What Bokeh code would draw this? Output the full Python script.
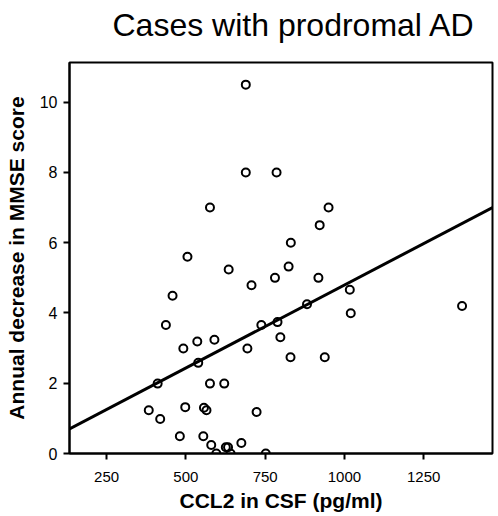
import numpy as np
from bokeh.plotting import figure
from bokeh.models import ColumnDataSource, FixedTicker, Range1d, Title
from bokeh.embed import file_html
from bokeh.resources import INLINE

# CCL2 in CSF (pg/ml)
ccl2 = [689, 689, 786, 576, 950, 922, 831, 505, 635, 824,
        781, 918, 707, 458, 882, 437, 738, 789, 536, 590,
        798, 492, 694, 830, 938, 539, 411, 576, 621, 383,
        419, 498, 557, 565, 723, 481, 555, 675, 580, 626,
        633, 596, 641, 752, 1017, 1020, 1371]
# Annual decrease in MMSE score
mmse = [10.5, 8.0, 8.0, 7.0, 7.0, 6.5, 6.0, 5.6, 5.24, 5.32,
        5.0, 5.0, 4.79, 4.49, 4.25, 3.66, 3.66, 3.74, 3.19, 3.24,
        3.31, 2.99, 2.99, 2.74, 2.74, 2.58, 1.99, 1.99, 1.99, 1.23,
        0.98, 1.32, 1.30, 1.23, 1.18, 0.49, 0.49, 0.30, 0.24, 0.18,
        0.18, 0.0, 0.0, 0.0, 4.66, 3.99, 4.2]

# linear fit coefficients
fit_intercept = 0.072
fit_slope = 0.004723

title_text = "Cases with prodromal AD"
x_ticks = [250, 500, 750, 1000, 1250]
y_ticks = [0, 2, 4, 6, 8, 10]
x_min, x_max = 133, 1467
y_min, y_max = 0, 11.13

FONT = "Liberation Sans"

p = figure(width=498, height=516, output_backend="svg", toolbar_location=None,
           x_range=Range1d(x_min, x_max), y_range=Range1d(y_min, y_max),
           min_border_left=69, min_border_right=6, min_border_top=59, min_border_bottom=63)

# blank spacer title nearest the frame, real title above it
spacer = Title(text=" ", text_font_size="1px", standoff=12)
p.add_layout(spacer, "above")
main_title = Title(text=title_text, text_font=FONT, text_font_size="32px",
                   text_font_style="normal", text_color="black",
                   align="left", offset=43, standoff=9)
p.add_layout(main_title, "above")

p.grid.visible = False
p.background_fill_color = "white"
p.border_fill_color = "white"
p.outline_line_color = "black"
p.outline_line_width = 2

for ax in (p.xaxis[0], p.yaxis[0]):
    ax.axis_line_width = 2
    ax.axis_line_color = "black"
    ax.major_tick_line_width = 2
    ax.major_tick_line_color = "black"
    ax.major_tick_in = 0
    ax.major_tick_out = 6
    ax.minor_tick_line_color = None
    ax.major_label_text_font = FONT
    ax.major_label_text_color = "black"
    ax.axis_label_text_font = FONT
    ax.axis_label_text_font_size = "21px"
    ax.axis_label_text_font_style = "bold"
    ax.axis_label_text_color = "black"

p.xaxis[0].major_label_text_font_size = "15px"
p.yaxis[0].major_label_text_font_size = "16px"
p.xaxis[0].ticker = FixedTicker(ticks=x_ticks)
p.yaxis[0].ticker = FixedTicker(ticks=y_ticks)
p.xaxis[0].axis_label = "CCL2 in CSF (pg/ml)"
p.yaxis[0].axis_label = "Annual decrease in MMSE score"
p.xaxis[0].major_label_standoff = 12
p.yaxis[0].major_label_standoff = 6
p.xaxis[0].axis_label_standoff = 4
p.yaxis[0].axis_label_standoff = 9

fit_x = np.array([x_min, x_max], dtype=float)
fit_y = fit_intercept + fit_slope * fit_x
p.line(fit_x, fit_y, line_color="black", line_width=3)

src = ColumnDataSource(dict(x=ccl2, y=mmse))
p.scatter("x", "y", source=src, marker="circle", size=8,
          line_color="black", line_width=2, fill_color=None)

open("out.html", "w").write(file_html(p, INLINE))
